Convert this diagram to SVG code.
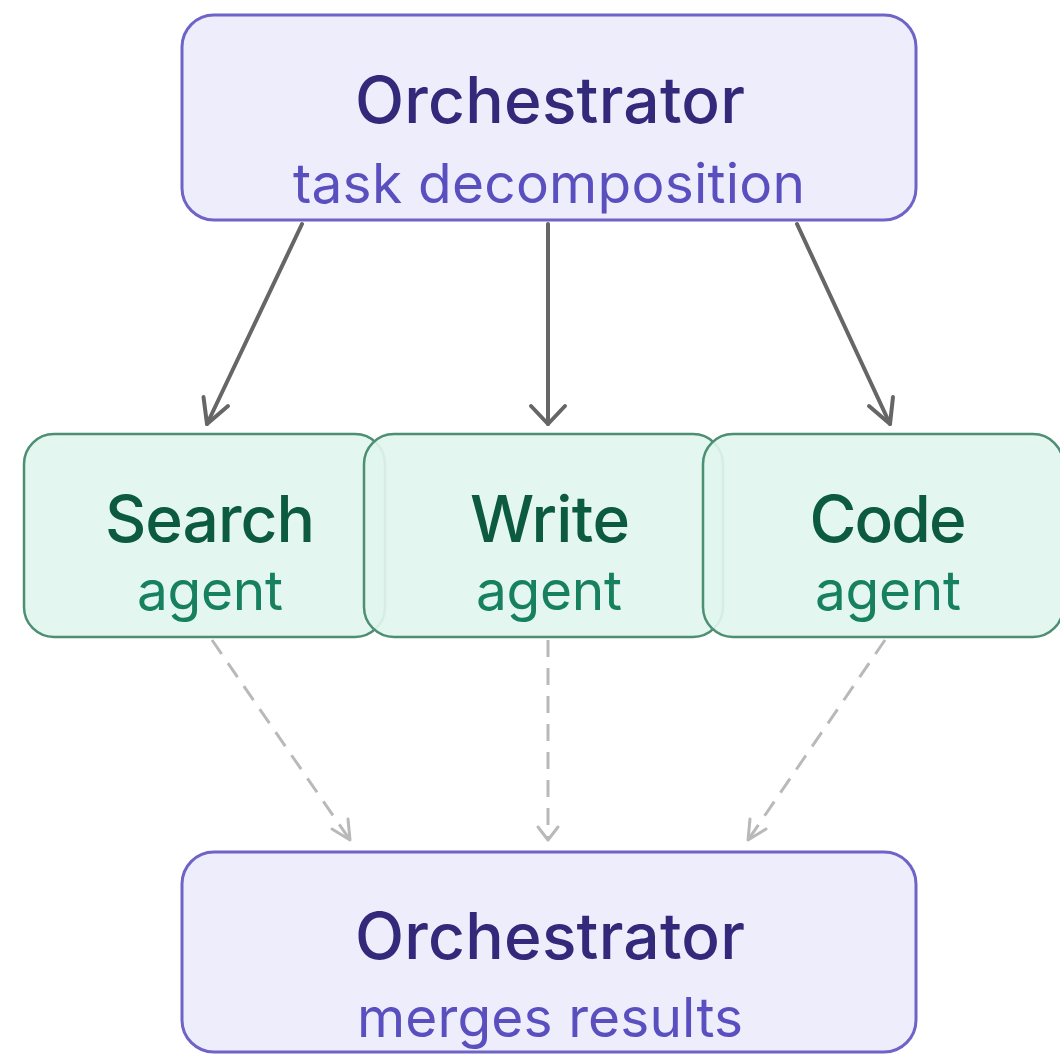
<svg xmlns="http://www.w3.org/2000/svg" width="1060" height="1056" viewBox="0 0 1060 1056">
  <defs>
    <style>
      .orch rect { fill: #eeedfc; stroke: #6e64c8; stroke-width: 3; }
      .agent rect { fill: #e1f5ee; fill-opacity: 0.92; stroke: #4d8f72; stroke-width: 2.5; }
      text { font-family: Inter, "Noto Sans", "Liberation Sans", sans-serif; text-anchor: middle; }
      .orch .title { fill: #33297a; font-size: 64px; font-weight: 500; }
      .orch .sub { fill: #5a4fbf; font-size: 55px; font-weight: 400; }
      .agent .title { fill: #0c5a3f; font-size: 64px; font-weight: 500; }
      .agent .sub { fill: #17815f; font-size: 55px; font-weight: 400; }
      .solid { fill: none; stroke: #666666; stroke-width: 4; stroke-linecap: round; stroke-linejoin: round; }
      .dashed { fill: none; stroke: #b9b9b9; stroke-width: 3; stroke-dasharray: 17 11; }
      .dhead { fill: none; stroke: #b9b9b9; stroke-width: 3; stroke-linecap: round; stroke-linejoin: round; }
    </style>
  </defs>

  <!-- connectors -->
  <g id="connectors">
    <line class="solid" x1="302" y1="224" x2="207" y2="424"/>
    <polyline class="solid" points="203.5,397 207,424 228,406"/>
    <line class="solid" x1="548" y1="224" x2="548" y2="424"/>
    <polyline class="solid" points="531,406 548,424 565,406"/>
    <line class="solid" x1="797" y1="224" x2="890" y2="424"/>
    <polyline class="solid" points="869,406 890,424 893,397"/>

    <line class="dashed" x1="212" y1="640" x2="350" y2="840"/>
    <polyline class="dhead" points="332,829 350,840 348,819"/>
    <line class="dashed" x1="548" y1="640" x2="548" y2="840"/>
    <polyline class="dhead" points="538,827 548,840 558,827"/>
    <line class="dashed" x1="885" y1="640" x2="748" y2="840"/>
    <polyline class="dhead" points="750,819 748,840 766,829"/>
  </g>

  <!-- top orchestrator -->
  <g id="orchestrator-top" class="orch">
    <rect x="182" y="15" width="734" height="205" rx="32"/>
    <text class="title" x="550" y="123" textLength="390" lengthAdjust="spacing">Orchestrator</text>
    <text class="sub" x="549" y="203" textLength="512" lengthAdjust="spacing">task decomposition</text>
  </g>

  <!-- agents -->
  <g id="agent-search" class="agent">
    <rect x="24" y="434" width="361" height="203" rx="30"/>
    <text class="title" x="210" y="542" textLength="210" lengthAdjust="spacing">Search</text>
    <text class="sub" x="210" y="610" textLength="146" lengthAdjust="spacing">agent</text>
  </g>
  <g id="agent-write" class="agent">
    <rect x="364" y="434" width="359" height="203" rx="30"/>
    <text class="title" x="550" y="542" textLength="160" lengthAdjust="spacing">Write</text>
    <text class="sub" x="549" y="610" textLength="146" lengthAdjust="spacing">agent</text>
  </g>
  <g id="agent-code" class="agent">
    <rect x="703" y="434" width="360" height="203" rx="30"/>
    <text class="title" x="888" y="542" textLength="157" lengthAdjust="spacing">Code</text>
    <text class="sub" x="888" y="610" textLength="146" lengthAdjust="spacing">agent</text>
  </g>

  <!-- bottom orchestrator -->
  <g id="orchestrator-bottom" class="orch">
    <rect x="182" y="852" width="734" height="200" rx="32"/>
    <text class="title" x="550" y="959" textLength="390" lengthAdjust="spacing">Orchestrator</text>
    <text class="sub" x="550" y="1037" textLength="386" lengthAdjust="spacing">merges results</text>
  </g>
</svg>
